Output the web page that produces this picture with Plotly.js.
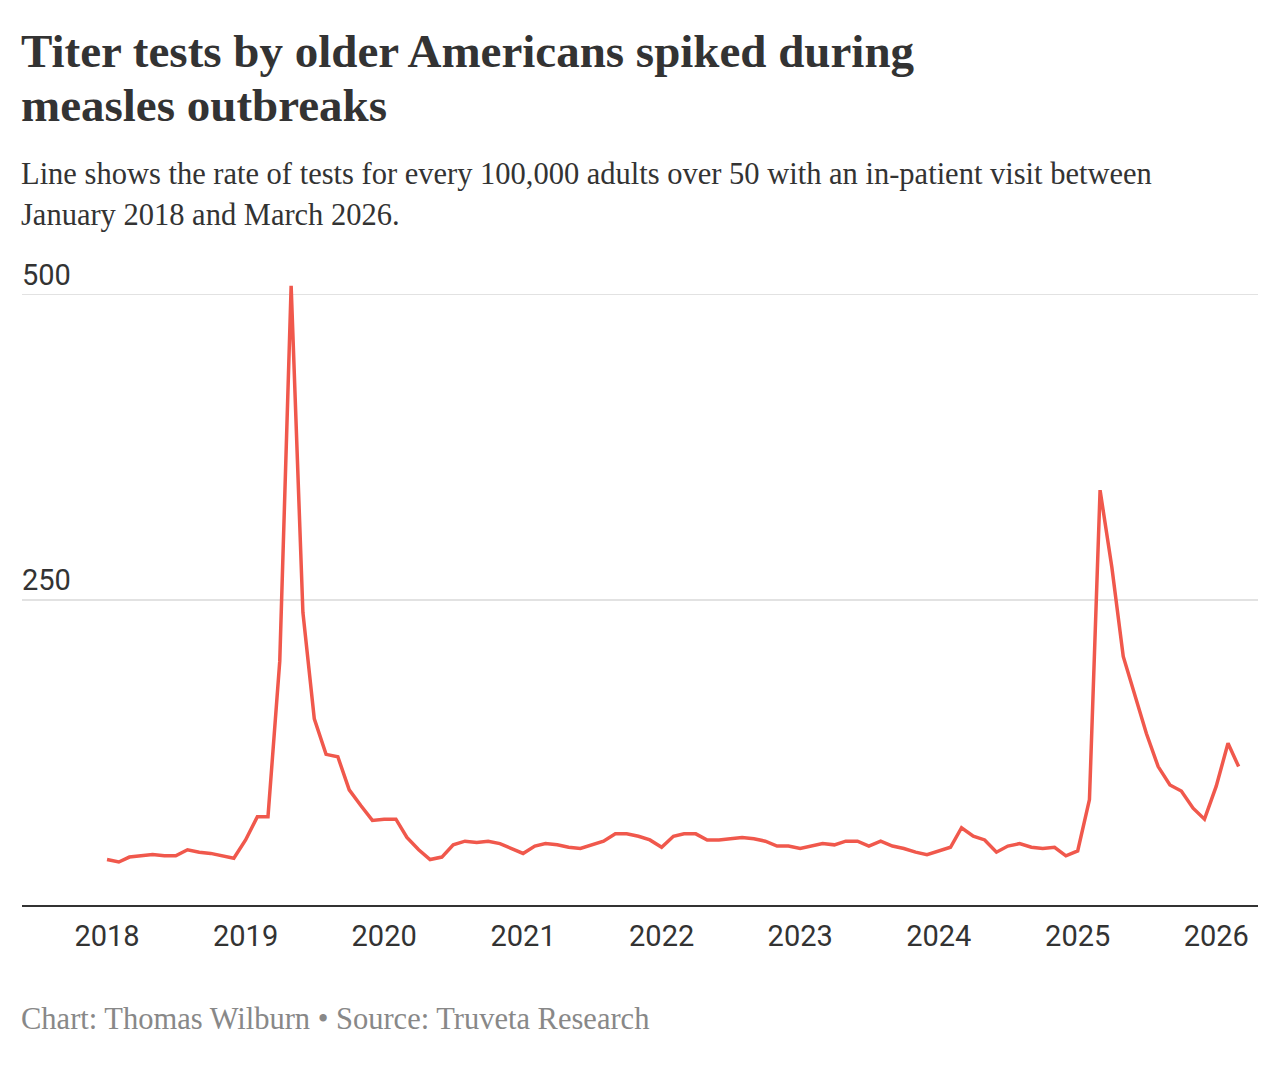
<!DOCTYPE html>
<html>
<head>
<meta charset="utf-8">
<script src="https://cdn.plot.ly/plotly-3.0.1.min.js"></script>
<style>
  html, body { margin: 0; padding: 0; background: #fff; }
  #chart { width: 1280px; height: 1065px; }
</style>
</head>
<body>
<div id="chart"></div>
<script>
// monthly rate of titer tests per 100,000 adults over 50, Jan 2018 - Mar 2026
var startYear = 2018;
var rates = [
	38, 36, 40, 41, 42, 41, 41, 46, 44, 43, 41, 39,
	54, 73, 73, 200, 507, 240, 153, 124, 122, 95, 82, 70,
	71, 71, 56, 46, 38, 40, 50, 53, 52, 53, 51, 47,
	43, 49, 51, 50, 48, 47, 50, 53, 59, 59, 57, 54,
	48, 57, 59, 59, 54, 54, 55, 56, 55, 53, 49, 49,
	47, 49, 51, 50, 53, 53, 49, 53, 49, 47, 44, 42,
	45, 48, 64, 57, 54, 44, 49, 51, 48, 47, 48, 41,
	45, 87, 340, 277, 204, 171, 141, 114, 99, 94, 80, 71,
	98, 133, 114
];
var yTicks = [250, 500];
var yTickText = ['250', '500'];
var xTicks = ['2018', '2019', '2020', '2021', '2022', '2023', '2024', '2025', '2026'];

var titleLines = ['Titer tests by older Americans spiked during', 'measles outbreaks'];
var subtitleLines = [
	'Line shows the rate of tests for every 100,000 adults over 50 with an in-patient visit between',
	'January 2018 and March 2026.'
];
var footer = 'Chart: Thomas Wilburn \u2022 Source: Truveta Research';

var months = [];
rates.forEach((r, i) => {
	var y = startYear + Math.floor(i / 12);
	var m = (i % 12) + 1;
	months.push(y + '-' + (m < 10 ? '0' + m : m) + '-01');
});

var serif = '"Liberation Serif", "DejaVu Serif", serif';
var sans = 'Roboto, "Noto Sans", sans-serif';

var data = [
	{
		type: 'scatter',
		mode: 'lines',
		x: months,
		y: rates,
		line: {color: '#f0584c', width: 3.5},
		hoverinfo: 'x+y'
	}
];

// text lines placed by pixel offset from the top/bottom of the plot area
function textLine(txt, y, shift, size, color, bold) {
	return {
		text: bold ? '<b>' + txt + '</b>' : txt,
		xref: 'paper', yref: 'paper',
		x: 0, y: y, xanchor: 'left', yanchor: 'middle', yshift: shift, xshift: -3,
		align: 'left', showarrow: false,
		font: {family: serif, size: size, color: color}
	};
}

var layout = {
	width: 1280,
	height: 1065,
	paper_bgcolor: '#fff',
	plot_bgcolor: '#fff',
	showlegend: false,
	margin: {l: 22, r: 22, t: 270, b: 159},
	xaxis: {
		type: 'date',
		range: ['2017-05-22', '2026-04-21'],
		tickvals: xTicks.map(t => t + '-01-01'),
		ticktext: xTicks,
		showgrid: false,
		zeroline: false,
		showline: false,
		ticks: '',
		tickfont: {family: sans, size: 29, color: '#333'},
		ticklabelstandoff: 10
	},
	yaxis: {
		range: [0, 520],
		tickvals: yTicks,
		ticktext: yTickText,
		showgrid: true,
		gridcolor: '#e2e2e2',
		gridwidth: 1.5,
		zeroline: true,
		zerolinecolor: '#333',
		zerolinewidth: 2,
		showline: false,
		ticks: '',
		ticklabelposition: 'inside',
		ticklabeloverflow: 'allow',
		ticklabelshift: -20,
		ticklabelstandoff: -3,
		tickfont: {family: sans, size: 29, color: '#333'}
	},
	annotations: [
		textLine(titleLines[0], 1, 219, 47, '#333', true),
		textLine(titleLines[1], 1, 165, 47, '#333', true),
		textLine(subtitleLines[0], 1, 96, 30.5, '#333', false),
		textLine(subtitleLines[1], 1, 55, 30.5, '#333', false),
		textLine(footer, 0, -113, 30.5, '#888', false)
	]
};

Plotly.newPlot('chart', data, layout, {displayModeBar: false, staticPlot: true});
</script>
</body>
</html>
